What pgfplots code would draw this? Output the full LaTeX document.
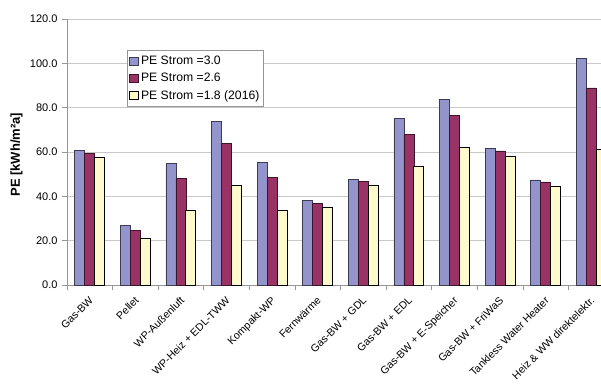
\documentclass[border=0pt]{standalone}
\usepackage{pgfplots}
\pgfplotsset{compat=1.18}
\usepackage{fontspec}
\setmainfont{Liberation Sans}
\definecolor{cblue}{RGB}{148,148,204}
\definecolor{cred}{RGB}{153,51,102}
\definecolor{cyel}{RGB}{255,250,204}
\definecolor{gridc}{RGB}{200,200,200}
\definecolor{axc}{RGB}{150,150,150}
\begin{document}
\begin{tikzpicture}
\path[use as bounding box] (-67bp,-104bp) rectangle (534bp,285bp);
\begin{axis}[
  at={(0,0)}, anchor=south west,
  scale only axis, width=547bp, height=266bp,
  xmin=-0.5, xmax=11.5, ymin=0, ymax=120,
  ybar=0pt, bar width=10bp,
  axis x line*=bottom, axis y line*=left,
  axis line style={axc, line width=0.8pt},
  ytick={0,20,...,120},
  ymajorgrids, grid style={gridc, line width=0.8pt},
  yticklabel style={/pgf/number format/fixed, /pgf/number format/precision=1, /pgf/number format/fixed zerofill, font=\fontsize{11bp}{13bp}\selectfont, xshift=-1bp},
  /pgf/number format/assume math mode=true,
  ytick style={axc, line width=0.6pt},
  xtick={0,...,11},
  xticklabels={Gas-BW, Pellet, WP-Außenluft, WP-Heiz + EDL-TWW, Kompakt-WP, Fernwärme, Gas-BW + GDL, Gas-BW + EDL, Gas-BW + E-Speicher, Gas-BW + FriWaS, Tankless Water Heater, Heiz \& WW direktelektr.},
  xticklabel style={rotate=45, anchor=north east, font=\fontsize{10.6bp}{12bp}\selectfont, xshift=-4bp, yshift=-2bp, inner sep=1bp},
  major x tick style={draw=none},
  minor xtick={-0.5,0.5,...,11.5},
  minor x tick style={axc, line width=0.6pt},
  tick align=outside,
  major tick length=5bp, minor tick length=5bp,
  ylabel={\bfseries PE [kWh/m²a]},
  ylabel style={font=\fontsize{13bp}{15bp}\selectfont, at={(-50.5bp,0.49)}, anchor=center},
  legend style={at={(60bp,235bp)}, anchor=north west, draw=axc, line width=0.6pt, font=\fontsize{12.2bp}{14bp}\selectfont, row sep=3bp, inner xsep=2bp, inner ysep=4bp, cells={anchor=west}},
  legend cell align=left,
  legend image code/.code={\draw[#1, line width=0.8pt] (1bp,-4bp) rectangle (10bp,4bp);},
]
\addplot[fill=cblue, draw=black!60!cblue, line width=0.7pt] coordinates {(0,60.6) (1,26.9) (2,54.9) (3,73.7) (4,55.2) (5,38.0) (6,47.7) (7,75.3) (8,83.9) (9,61.5) (10,47.4) (11,102.4)};
\addplot[fill=cred, draw=black!60!cred, line width=0.7pt] coordinates {(0,59.5) (1,24.8) (2,48.1) (3,63.8) (4,48.4) (5,36.8) (6,46.8) (7,67.8) (8,76.5) (9,60.5) (10,46.5) (11,88.9)};
\addplot[fill=cyel, draw=black, line width=1pt] coordinates {(0,57.3) (1,20.8) (2,33.4) (3,44.7) (4,33.4) (5,34.9) (6,44.8) (7,53.4) (8,61.9) (9,58.1) (10,44.5) (11,61.2)};
\legend{PE Strom =3.0, PE Strom =2.6, PE Strom =1.8 (2016)}
\end{axis}
\end{tikzpicture}
\end{document}
